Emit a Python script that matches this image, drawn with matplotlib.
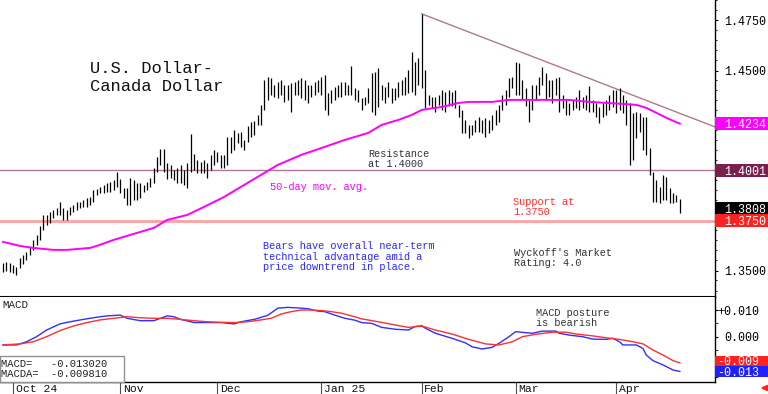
import matplotlib
matplotlib.use('Agg')
import matplotlib.pyplot as plt
from matplotlib.patches import Rectangle
from matplotlib.transforms import blended_transform_factory as btf, ScaledTranslation
from matplotlib.ticker import FixedLocator, MultipleLocator, FuncFormatter
import numpy as np

# ---------------- data ----------------
highs = [1.3538, 1.3543, 1.3538, 1.3528, 1.3518, 1.3563, 1.3578, 1.3593, 1.3618, 1.3653,
         1.3678, 1.3723, 1.3778, 1.3778, 1.3793, 1.3803, 1.3813, 1.3843, 1.3813, 1.3803,
         1.3818, 1.3828, 1.3843, 1.3843, 1.3853, 1.3863, 1.3868, 1.3903, 1.3908, 1.3918,
         1.3928, 1.3938, 1.3943, 1.3953, 1.3993, 1.3958, 1.3913, 1.3913, 1.3963, 1.3953,
         1.3938, 1.3938, 1.3928, 1.3943, 1.3963, 1.4013, 1.4068, 1.4108, 1.4108, 1.4038,
         1.4028, 1.4003, 1.4013, 1.4028, 1.4003, 1.4038, 1.4183, 1.4083, 1.4053, 1.4043,
         1.4053, 1.4038, 1.4078, 1.4103, 1.4093, 1.4078, 1.4078, 1.4168, 1.4168, 1.4203,
         1.4188, 1.4193, 1.4153, 1.4223, 1.4243, 1.4248, 1.4278, 1.4328, 1.4453, 1.4468,
         1.4463, 1.4428, 1.4443, 1.4453, 1.4428, 1.4428, 1.4438, 1.4443, 1.4453, 1.4463,
         1.4453, 1.4428, 1.4428, 1.4443, 1.4453, 1.4468, 1.4478, 1.4388, 1.4403, 1.4418,
         1.4428, 1.4443, 1.4443, 1.4428, 1.4523, 1.4413, 1.4403, 1.4363, 1.4368, 1.4413,
         1.4488, 1.4493, 1.4513, 1.4428, 1.4418, 1.4443, 1.4413, 1.4413, 1.4443, 1.4453,
         1.4468, 1.4503, 1.4593, 1.4543, 1.4563, 1.4783, 1.4503, 1.4378, 1.4368, 1.4368,
         1.4378, 1.4403, 1.4393, 1.4403, 1.4393, 1.4403, 1.4328, 1.4303, 1.4253, 1.4228,
         1.4228, 1.4253, 1.4268, 1.4253, 1.4263, 1.4253, 1.4278, 1.4303, 1.4328, 1.4378,
         1.4403, 1.4463, 1.4468, 1.4543, 1.4538, 1.4453, 1.4413, 1.4353, 1.4428, 1.4428,
         1.4468, 1.4518, 1.4488, 1.4453, 1.4453, 1.4463, 1.4468, 1.4378, 1.4353, 1.4338,
         1.4353, 1.4368, 1.4403, 1.4368, 1.4378, 1.4423, 1.4353, 1.4338, 1.4318, 1.4338,
         1.4353, 1.4378, 1.4403, 1.4403, 1.4413, 1.4378, 1.4353, 1.4338, 1.4288, 1.4293,
         1.4288, 1.4268, 1.4268, 1.4113, 1.3993, 1.3953, 1.3918, 1.3978, 1.3968, 1.3913,
         1.3888, 1.3878, 1.3858]
lows = [1.3493, 1.3498, 1.3493, 1.3488, 1.3478, 1.3513, 1.3533, 1.3553, 1.3578, 1.3603,
        1.3628, 1.3653, 1.3703, 1.3728, 1.3738, 1.3763, 1.3778, 1.3778, 1.3753, 1.3753,
        1.3778, 1.3793, 1.3803, 1.3813, 1.3818, 1.3818, 1.3828, 1.3843, 1.3878, 1.3888,
        1.3888, 1.3893, 1.3893, 1.3903, 1.3918, 1.3888, 1.3863, 1.3828, 1.3828, 1.3853,
        1.3853, 1.3863, 1.3893, 1.3903, 1.3918, 1.3938, 1.3993, 1.4028, 1.3993, 1.3958,
        1.3963, 1.3953, 1.3938, 1.3938, 1.3928, 1.3913, 1.3993, 1.4003, 1.3988, 1.3988,
        1.3988, 1.3963, 1.4003, 1.4028, 1.4043, 1.4013, 1.4013, 1.4028, 1.4088, 1.4103,
        1.4138, 1.4118, 1.4103, 1.4143, 1.4168, 1.4178, 1.4228, 1.4228, 1.4303, 1.4353,
        1.4378, 1.4368, 1.4363, 1.4378, 1.4343, 1.4353, 1.4293, 1.4378, 1.4378, 1.4363,
        1.4353, 1.4338, 1.4368, 1.4378, 1.4393, 1.4378, 1.4303, 1.4278, 1.4338, 1.4353,
        1.4368, 1.4368, 1.4378, 1.4378, 1.4378, 1.4353, 1.4343, 1.4303, 1.4328, 1.4338,
        1.4293, 1.4278, 1.4318, 1.4353, 1.4338, 1.4368, 1.4338, 1.4353, 1.4368, 1.4378,
        1.4378, 1.4388, 1.4393, 1.4378, 1.4428, 1.4413, 1.4313, 1.4328, 1.4313, 1.4293,
        1.4328, 1.4303, 1.4293, 1.4323, 1.4323, 1.4313, 1.4268, 1.4188, 1.4188, 1.4163,
        1.4178, 1.4193, 1.4193, 1.4188, 1.4168, 1.4188, 1.4203, 1.4228, 1.4243, 1.4303,
        1.4328, 1.4368, 1.4413, 1.4378, 1.4378, 1.4353, 1.4323, 1.4243, 1.4303, 1.4353,
        1.4378, 1.4428, 1.4353, 1.4368, 1.4338, 1.4378, 1.4293, 1.4313, 1.4278, 1.4278,
        1.4303, 1.4313, 1.4303, 1.4313, 1.4303, 1.4293, 1.4293, 1.4268, 1.4238, 1.4268,
        1.4278, 1.4303, 1.4318, 1.4288, 1.4303, 1.4288, 1.4228, 1.4028, 1.4053, 1.4163,
        1.4193, 1.4103, 1.4078, 1.3978, 1.3843, 1.3843, 1.3838, 1.3853, 1.3853, 1.3838,
        1.3838, 1.3843, 1.3788]
last_close = 1.3808

ma_idx = [0, 5, 9, 15, 19, 26, 28, 33, 40, 45, 49, 55, 60, 66, 72, 78, 82, 89, 96, 102,
          109, 113, 118, 122, 125, 131, 136, 139, 146, 151, 155, 158, 169, 175, 180, 185,
          189, 192, 195, 198, 202]
ma_val = [1.3643, 1.3623, 1.3613, 1.3603, 1.3603, 1.3613, 1.3623, 1.3653, 1.3688, 1.3713,
          1.3753, 1.3778, 1.3818, 1.3868, 1.3928, 1.3988, 1.4028, 1.4078, 1.4118, 1.4153,
          1.4188, 1.4228, 1.4253, 1.4278, 1.4303, 1.4318, 1.4338, 1.4343, 1.4343, 1.4353,
          1.4353, 1.4353, 1.4353, 1.4343, 1.4338, 1.4333, 1.4328, 1.4313, 1.4288, 1.4263,
          1.4234]

trend_idx = [125, 212.5]
trend_val = [1.4783, 1.4218]
resistance = 1.4001
support = 1.3750

macd_idx = [0, 4, 7, 10, 13, 17, 20, 24, 28, 31, 35, 37, 41, 45, 47, 49, 51, 53, 57, 61,
            65, 69, 71, 75, 79, 82, 85, 89, 91, 94, 96, 99, 102, 105, 107, 110, 113, 117,
            121, 123, 125, 126, 129, 134, 138, 140, 143, 146, 148, 151, 153, 156, 158, 161,
            165, 166, 169, 173, 176, 180, 182, 184, 185, 189, 191, 192, 194, 197, 200, 202]
macd_val = [-0.0031, -0.0031, -0.0019, 0.0, 0.0025, 0.0048, 0.0056, 0.0065, 0.0073, 0.0078,
            0.0081, 0.0069, 0.0060, 0.0060, 0.0069, 0.0078, 0.0075, 0.0065, 0.0053, 0.0053,
            0.0053, 0.0048, 0.0056, 0.0065, 0.0080, 0.0107, 0.0110, 0.0107, 0.0105, 0.0096,
            0.0094, 0.0081, 0.0069, 0.0062, 0.0053, 0.0050, 0.0035, 0.0028, 0.0025, 0.0038,
            0.0041, 0.0032, 0.0013, -0.0006, -0.0023, -0.0038, -0.0046, -0.0040, -0.0025, 0.0000,
            0.0019, 0.0015, 0.0013, 0.0021, 0.0021, 0.0013, 0.0006, 0.0000, -0.0009, -0.0010,
            -0.0006, -0.0019, -0.0031, -0.0031, -0.0044, -0.0069, -0.0090, -0.0106, -0.0125, -0.01302]
sig_idx = [0, 5, 9, 13, 17, 21, 25, 29, 33, 37, 41, 45, 49, 53, 57, 61, 65, 69, 73, 77,
           80, 83, 86, 89, 92, 95, 98, 101, 104, 107, 112, 117, 121, 125, 129, 134, 139, 144,
           148, 152, 155, 159, 164, 168, 171, 176, 180, 184, 188, 191, 194, 197, 200, 202]
sig_val = [-0.0031, -0.0027, -0.0019, 0.0, 0.0023, 0.0040, 0.0053, 0.0063, 0.0069, 0.0075,
           0.0071, 0.0069, 0.0069, 0.0065, 0.0060, 0.0056, 0.0054, 0.0053, 0.0056, 0.0063,
           0.0069, 0.0085, 0.0094, 0.0100, 0.0100, 0.0098, 0.0094, 0.0088, 0.0078, 0.0067,
           0.0056, 0.0044, 0.0035, 0.0040, 0.0025, 0.0010, -0.0010, -0.0027, -0.0031, -0.0019,
           0.0, 0.0009, 0.0017, 0.0017, 0.0010, 0.0003, -0.0004, -0.0010, -0.0019, -0.0027,
           -0.0050, -0.0069, -0.0090, -0.00981]
macd_last = -0.013020
signal_last = -0.009810

month_labels = ['Oct 24', 'Nov', 'Dec', 'Jan 25', 'Feb', 'Mar', 'Apr']
month_idx = [3, 35, 64, 95, 125, 153, 183]
price_ticks = [1.3500, 1.3750, 1.4000, 1.4250, 1.4500, 1.4750]
price_labeled = [1.3500, 1.4500, 1.4750]      # the others are hidden behind value boxes
macd_ticks = [-0.010, 0.000, 0.010]
macd_labeled = [0.000, 0.010]

# ---------------- layout ----------------
W, H = 768, 394
MONO = 'Liberation Mono'
fig = plt.figure(figsize=(W / 100, H / 100), dpi=100)
fig.patch.set_facecolor('white')
AXR = 715
ax = fig.add_axes([0, 1 - 297 / H, AXR / W, 297 / H])
ax2 = fig.add_axes([0, 1 - 382 / H, AXR / W, 85 / H])
XL = (-0.9, 212.5)

# ---------------- price panel ----------------
x = np.arange(len(highs))
ax.vlines(x, lows, highs, color='black', lw=0.9, zorder=3)
ax.plot(ma_idx, ma_val, color='#FF00FF', lw=1.4, zorder=4)
ax.plot(trend_idx, trend_val, color='#B07890', lw=1.0, zorder=2)
ax.axhline(resistance, color='#B07898', lw=1.0, zorder=1)
ax.axhline(support, color='#FFA0A0', lw=2.0, zorder=1)
ax.set_xlim(*XL)
ax.set_ylim(1.33675, 1.48525)
ax.set_xticks([])
ax.yaxis.tick_right()
ax.yaxis.set_major_locator(FixedLocator(price_ticks))
ax.yaxis.set_minor_locator(MultipleLocator(0.005))
ax.yaxis.set_major_formatter(FuncFormatter(
    lambda v, p: '%.4f' % v if any(abs(v - t) < 1e-9 for t in price_labeled) else ''))
ax.tick_params(axis='y', which='major', length=2.5, width=0.8, pad=4.2, labelsize=8.4, direction='out')
ax.tick_params(axis='y', which='minor', length=1.5, width=0.6, direction='out')
for lab in ax.get_yticklabels():
    lab.set_family(MONO)
for s in ['left', 'top']:
    ax.spines[s].set_visible(False)
ax.spines['right'].set_linewidth(1.0)
ax.spines['bottom'].set_linewidth(1.5)

def value_box(axis, val, text, fc, half, text_x, ha):
    tr = btf(axis.transAxes, axis.transData)
    axis.add_patch(Rectangle((1.0, val - half), (W - AXR) / AXR, 2 * half, transform=tr,
                             facecolor=fc, edgecolor='none', clip_on=False, zorder=10))
    axis.text(text_x / AXR, val, text, transform=tr, color='white', va='center_baseline',
              ha=ha, fontsize=8.4, family=MONO, zorder=11, clip_on=False)

ph = 6.5 / 2000
value_box(ax, ma_val[-1], '%.4f' % ma_val[-1], '#FF00FF', ph, 724, 'left')
value_box(ax, resistance, '%.4f' % resistance, '#7A1F4E', ph, 724, 'left')
value_box(ax, last_close, '%.4f' % last_close, '#000000', ph, 724, 'left')
value_box(ax, support, '%.4f' % support, '#FF2020', ph, 724, 'left')

# ---------------- MACD panel ----------------
ax2.plot(macd_idx, macd_val, color='#3030FF', lw=1.0, zorder=3)
ax2.plot(sig_idx, sig_val, color='#FF3030', lw=1.0, zorder=3)
ax2.set_xlim(*XL)
ax2.set_ylim(-0.01699, 0.01489)
ax2.set_xticks([])
ax2.yaxis.tick_right()
ax2.yaxis.set_major_locator(FixedLocator(macd_ticks))
ax2.yaxis.set_minor_locator(MultipleLocator(0.005))

def macd_fmt(v, p):
    if not any(abs(v - t) < 1e-9 for t in macd_labeled):
        return ''
    if abs(v) < 1e-9:
        return '0.000'
    return ('+%.3f' % v) if v > 0 else '%.3f' % v

ax2.yaxis.set_major_formatter(FuncFormatter(macd_fmt))
ax2.tick_params(axis='y', which='major', length=2.5, width=0.8, pad=29.2, labelsize=8.4, direction='out')
ax2.tick_params(axis='y', which='minor', length=2.5, width=0.6, direction='out')
for lab in ax2.get_yticklabels():
    lab.set_family(MONO)
    lab.set_horizontalalignment('right')
for s in ['left', 'top']:
    ax2.spines[s].set_visible(False)
ax2.spines['right'].set_linewidth(1.0)
ax2.spines['bottom'].set_linewidth(1.0)

mh = 5.3 / 2667
sig_show = np.trunc(signal_last * 1000) / 1000
macd_show = np.trunc(macd_last * 1000) / 1000
value_box(ax2, macd_last + 2 * mh, '%.3f' % sig_show, '#FF2020', mh, 759, 'right')
value_box(ax2, macd_last, '%.3f' % macd_show, '#2020FF', mh, 759, 'right')

# legend box with current values
ax2.add_patch(Rectangle((0, 0), 124 / AXR, 26 / 85, transform=ax2.transAxes,
                        facecolor='white', edgecolor='#909090', lw=1.0, zorder=6, clip_on=False))

def ftext(px, py, s, size=7.4, color='#333333', **kw):
    fig.text(px / W, 1 - py / H, s, fontsize=size, color=color, family=MONO,
             va='baseline', **kw)

ftext(1, 367, 'MACD=   %.6f' % macd_last, size=7.6, color='#222222', zorder=7)
ftext(1, 377, 'MACDA=  %.6f' % signal_last, size=7.6, color='#222222', zorder=7)
ftext(2, 308, 'MACD', size=7.8, color='#222222')

# month separators and labels
trx = btf(ax2.transData, ax2.transAxes)
off = ScaledTranslation(2.5 / 100, 0, fig.dpi_scale_trans)
for lab, i in zip(month_labels, month_idx):
    ax2.plot([i, i], [0, -12 / 85], transform=trx, color='#505050', lw=0.8, clip_on=False)
    ax2.text(i, -11.6 / 85, lab, transform=trx + off, ha='left', va='bottom',
             fontsize=8.2, family=MONO, color='#111111', clip_on=False)

# red arrow bottom-right
fig.add_artist(matplotlib.patches.FancyArrowPatch(
    (767 / W, 1 - 388 / H), (758 / W, 1 - 388 / H), transform=fig.transFigure,
    arrowstyle='-|>', mutation_scale=7, color='#FF2020', lw=1.8))

# ---------------- annotations ----------------
ftext(90, 73, 'U.S. Dollar-', size=12.3, color='#111111')
ftext(90, 91, 'Canada Dollar', size=12.3, color='#111111')
ftext(368, 157, 'Resistance', color='#333333')
ftext(368, 167, 'at 1.4000', color='#333333')
ftext(270, 190, '50-day mov. avg.', color='#FF00FF')
ftext(263, 249, 'Bears have overall near-term', color='#2828FF')
ftext(263, 260, 'technical advantage amid a', color='#2828FF')
ftext(263, 270, 'price downtrend in place.', color='#2828FF')
ftext(513, 205, 'Support at', color='#FF3030')
ftext(513, 215, '1.3750', color='#FF3030')
ftext(514, 256, "Wyckoff's Market", color='#333333')
ftext(514, 266, 'Rating: 4.0', color='#333333')
ftext(536, 316, 'MACD posture', color='#333333')
ftext(536, 326, 'is bearish', color='#333333')

fig.savefig('out.png', dpi=100, facecolor='white')
